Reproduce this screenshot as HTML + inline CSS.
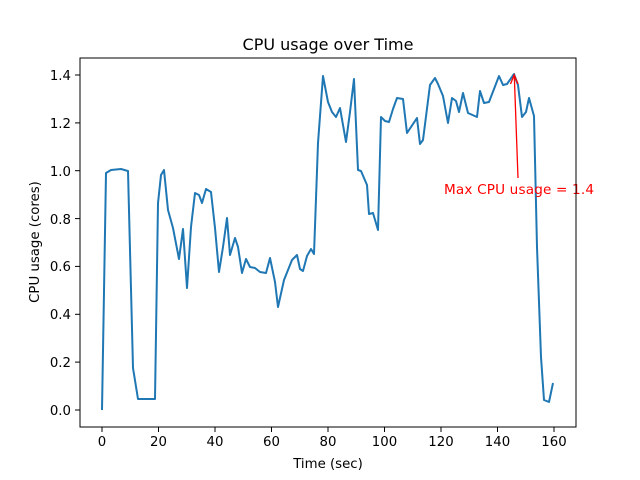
<!DOCTYPE html>
<html><head><meta charset="utf-8"><style>body{margin:0;background:#fff}svg{display:block}text{font-family:"DejaVu Sans","Liberation Sans",sans-serif;fill:#000}</style></head><body>
<svg width="640" height="480" viewBox="0 0 640 480" xmlns="http://www.w3.org/2000/svg">
<rect width="640" height="480" fill="#fff"/>
<text x="328" y="50" font-size="16" text-anchor="middle">CPU usage over Time</text>
<polyline fill="none" stroke="#1f77b4" stroke-width="2" stroke-linejoin="round" points="102,410 106,173 111,170 121,169 128,171 133,368 138,399 155,399 158,203 161,175 164,170 168,210 173,228 179,259 183,229 187,288 191,227 195,193 199,195 202,203 206,189 211,192 215,228 219,272 223,247 227,218 230,255 235,238 238,247 242,273 246,259 250,267 255,268 260,272 266,273 270,258 275,282 278,307 284,280 292,260 297,255 300,269 303,271 307,256 311,249 314,254 318,143 323,76 328,102 332,112 336,117 340,108 346,142 350,112 354,79 358,170 361,171 367,185 369,214 373,213 378,230 381,117 385,121 389,122 393,109 397,98 403,99 407,133 417,118 420,144 423,140 430,85 435,78 438,84 443,96 448,123 452,98 456,101 459,112 463,93 468,113 477,117 480,91 484,103 489,102 499,76 503,85 507,84 514,74 518,85 522,117 526,112 529,98 534,116 537,247 541,357 544,400 549,402 553,383"/>
<line x1="518" y1="178" x2="514.3" y2="76" stroke="red" stroke-width="1.3"/>
<polyline points="510.5,84 514.2,75 518,84" fill="none" stroke="red" stroke-width="1.3"/>
<text x="444" y="194" font-size="13.6" textLength="150" style="fill:red">Max CPU usage = 1.4</text>
<rect x="80" y="58" width="496" height="369" fill="none" stroke="#000" stroke-width="1"/>
<g stroke="#000" stroke-width="1">
<line x1="102" y1="427" x2="102" y2="432"/><line x1="158.5" y1="427" x2="158.5" y2="432"/><line x1="215" y1="427" x2="215" y2="432"/><line x1="271.5" y1="427" x2="271.5" y2="432"/><line x1="328" y1="427" x2="328" y2="432"/><line x1="384.5" y1="427" x2="384.5" y2="432"/><line x1="441" y1="427" x2="441" y2="432"/><line x1="497.5" y1="427" x2="497.5" y2="432"/><line x1="554" y1="427" x2="554" y2="432"/>
<line x1="75" y1="410" x2="80" y2="410"/><line x1="75" y1="362.1" x2="80" y2="362.1"/><line x1="75" y1="314.3" x2="80" y2="314.3"/><line x1="75" y1="266.4" x2="80" y2="266.4"/><line x1="75" y1="218.6" x2="80" y2="218.6"/><line x1="75" y1="170.7" x2="80" y2="170.7"/><line x1="75" y1="122.9" x2="80" y2="122.9"/><line x1="75" y1="75" x2="80" y2="75"/>
</g>
<g font-size="13.3" text-anchor="middle">
<text x="102" y="446">0</text><text x="158.5" y="446">20</text><text x="215" y="446">40</text><text x="271.5" y="446">60</text><text x="328" y="446">80</text><text x="384.5" y="446">100</text><text x="441" y="446">120</text><text x="497.5" y="446">140</text><text x="554" y="446">160</text>
</g>
<g font-size="13.3" text-anchor="end">
<text x="71" y="415">0.0</text><text x="71" y="367">0.2</text><text x="71" y="319">0.4</text><text x="71" y="271">0.6</text><text x="71" y="224">0.8</text><text x="71" y="176">1.0</text><text x="71" y="128">1.2</text><text x="71" y="80">1.4</text>
</g>
<text x="328" y="468" font-size="13.3" text-anchor="middle">Time (sec)</text>
<text transform="translate(39,242) rotate(-90)" font-size="13.3" text-anchor="middle">CPU usage (cores)</text>
</svg>
</body></html>
